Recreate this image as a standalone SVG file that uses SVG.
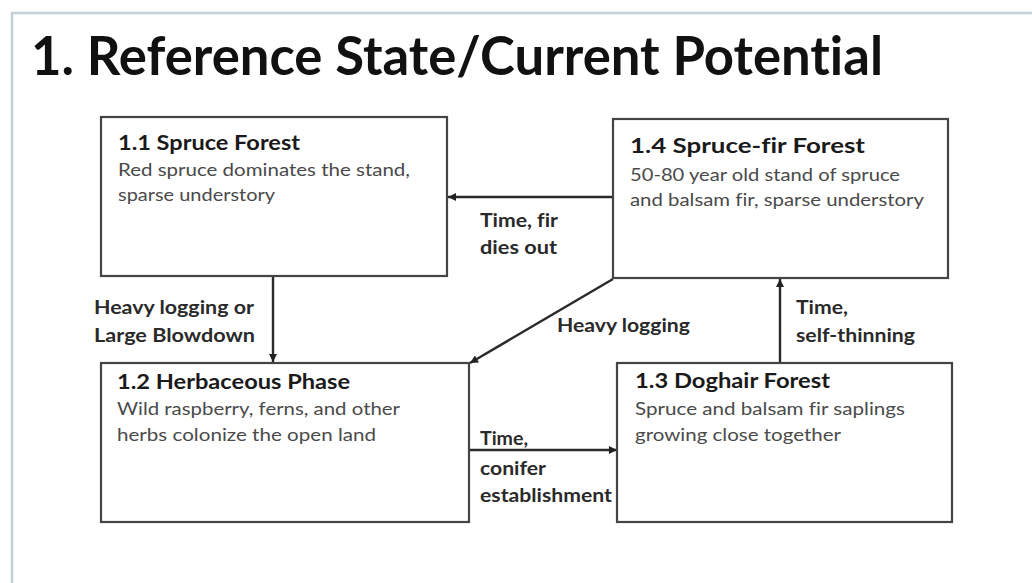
<svg xmlns="http://www.w3.org/2000/svg" width="1032" height="583" viewBox="0 0 1032 583">
<defs>
<marker id="arr" viewBox="0 0 10 10" refX="10" refY="5" markerWidth="9" markerHeight="8" markerUnits="userSpaceOnUse" orient="auto">
<path d="M0,0 L10,5 L0,10 z" fill="#222"/>
</marker>
<style>
text{font-variant-ligatures:none}
.box{fill:#fff;stroke:#444;stroke-width:2.2}
.hd{font-family:Lato,"Open Sans","Liberation Sans",sans-serif;font-weight:bold;font-size:21px;fill:#1a1a1a}
.tx{font-family:Lato,"Open Sans","Liberation Sans",sans-serif;font-size:17.5px;fill:#4a4a4a}
.lb{font-family:Lato,"Open Sans","Liberation Sans",sans-serif;font-weight:bold;font-size:18.5px;fill:#2a2a2a}
.cn{stroke:#2a2a2a;stroke-width:2.4;fill:none;marker-end:url(#arr)}
</style>
</defs>
<rect width="1032" height="583" fill="#fff"/>
<path d="M12,583 L12,13 L1032,13" fill="none" stroke="#c3cfd6" stroke-width="2.5"/>
<text x="31" y="75" font-family="Lato,'Open Sans','Liberation Sans',sans-serif" font-weight="bold" font-size="53" fill="#111" textLength="852" lengthAdjust="spacingAndGlyphs">1. Reference State/Current Potential</text>

<g id="connectors">
<line class="cn" x1="613" y1="197" x2="448" y2="197"/>
<line class="cn" x1="273" y1="277" x2="273" y2="362"/>
<line class="cn" x1="613" y1="279" x2="470" y2="363"/>
<line class="cn" x1="469" y1="450" x2="617" y2="450"/>
<line class="cn" x1="780" y1="362" x2="780" y2="279"/>
<text class="lb" x="480" y="227" textLength="78" lengthAdjust="spacingAndGlyphs">Time, fir</text>
<text class="lb" x="480" y="254" textLength="77" lengthAdjust="spacingAndGlyphs">dies out</text>
<text class="lb" x="94" y="314" textLength="160" lengthAdjust="spacingAndGlyphs">Heavy logging or</text>
<text class="lb" x="94" y="342" textLength="161" lengthAdjust="spacingAndGlyphs">Large Blowdown</text>
<text class="lb" x="557" y="332" textLength="133" lengthAdjust="spacingAndGlyphs">Heavy logging</text>
<text class="lb" x="796" y="314" textLength="52" lengthAdjust="spacingAndGlyphs">Time,</text>
<text class="lb" x="796" y="342" textLength="119" lengthAdjust="spacingAndGlyphs">self-thinning</text>
<text class="lb" x="480" y="445" textLength="48" lengthAdjust="spacingAndGlyphs">Time,</text>
<text class="lb" x="480" y="475" textLength="66" lengthAdjust="spacingAndGlyphs">conifer</text>
<text class="lb" x="480" y="502" textLength="132" lengthAdjust="spacingAndGlyphs">establishment</text>
</g>

<g id="n11">
<rect class="box" x="101" y="117" width="346" height="159"/>
<text class="hd" x="118" y="150" textLength="182" lengthAdjust="spacingAndGlyphs">1.1 Spruce Forest</text>
<text class="tx" x="118" y="176" textLength="292" lengthAdjust="spacingAndGlyphs">Red spruce dominates the stand,</text>
<text class="tx" x="118" y="201" textLength="157" lengthAdjust="spacingAndGlyphs">sparse understory</text>
</g>

<g id="n14">
<rect class="box" x="613" y="119" width="335" height="159"/>
<text class="hd" x="630" y="153" textLength="235" lengthAdjust="spacingAndGlyphs">1.4 Spruce-fir Forest</text>
<text class="tx" x="630" y="181" textLength="270" lengthAdjust="spacingAndGlyphs">50-80 year old stand of spruce</text>
<text class="tx" x="630" y="206" textLength="294" lengthAdjust="spacingAndGlyphs">and balsam fir, sparse understory</text>
</g>

<g id="n12">
<rect class="box" x="101" y="363" width="368" height="159"/>
<text class="hd" x="117" y="389" textLength="233" lengthAdjust="spacingAndGlyphs">1.2 Herbaceous Phase</text>
<text class="tx" x="117" y="415" textLength="283" lengthAdjust="spacingAndGlyphs">Wild raspberry, ferns, and other</text>
<text class="tx" x="117" y="441" textLength="259" lengthAdjust="spacingAndGlyphs">herbs colonize the open land</text>
</g>

<g id="n13">
<rect class="box" x="617" y="363" width="335" height="159"/>
<text class="hd" x="635" y="388" textLength="195" lengthAdjust="spacingAndGlyphs">1.3 Doghair Forest</text>
<text class="tx" x="635" y="415" textLength="270" lengthAdjust="spacingAndGlyphs">Spruce and balsam fir saplings</text>
<text class="tx" x="635" y="441" textLength="206" lengthAdjust="spacingAndGlyphs">growing close together</text>
</g>
</svg>
